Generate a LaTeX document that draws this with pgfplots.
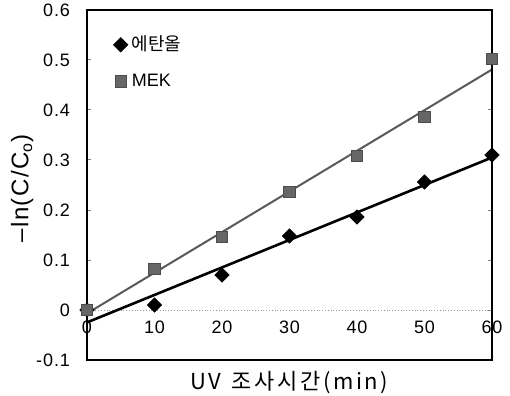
\documentclass[border=0pt]{standalone}
\usepackage{fontspec}
\setmainfont{Liberation Sans}
\newfontfamily\kr{Noto Sans CJK KR}
\newfontfamily\krs[LetterSpace=12]{Noto Sans CJK KR}
\newfontfamily\sps[LetterSpace=6]{Liberation Sans}
\newfontfamily\tks[LetterSpace=5]{Liberation Sans}
\usepackage{pgfplots}
\pgfplotsset{compat=1.18}
\begin{document}
\begin{tikzpicture}
\begin{axis}[
  scale only axis, width=202.5pt, height=175pt,
  xmin=0, xmax=60, ymin=-0.1, ymax=0.6,
  xtick={0,10,...,60}, ytick={-0.1,0,...,0.6},
  /pgf/number format/assume math mode=true,
  yticklabel style={/pgf/number format/fixed,/pgf/number format/precision=1, font=\tks\fontsize{9}{10}\selectfont, xshift=-5pt},
  xticklabel style={yshift=23pt, font=\tks\fontsize{9}{10}\selectfont},
  xtick style={draw=none},
  ytick style={line width=0.5pt},
  tick align=inside, major tick length=2pt,
  axis line style={line width=0.6pt},
  xlabel={\krs UV\hspace{5pt}조사시간(min)},
  xlabel style={at={(axis description cs:0.5,-0.063)}, anchor=center, font=\fontsize{11}{13}\selectfont},
  ylabel={\sps –ln(C/C\textsubscript{o})},
  ylabel style={at={(axis description cs:-0.16,0.49)}, anchor=center, font=\fontsize{12}{14}\selectfont},
  legend style={draw=none, fill=none, at={(axis description cs:0.05,0.95)}, anchor=north west, font=\fontsize{9}{10}\selectfont, row sep=6pt},
  legend cell align=left,
  clip=false,
]
\addplot[black!40, densely dotted, forget plot] coordinates {(0,0) (60,0)};
\addplot[black, line width=1.3pt, forget plot] coordinates {(0,-0.0248) (60,0.305)};
\addplot[black!65, line width=1pt, forget plot] coordinates {(0,-0.0068) (60,0.481)};
\addplot[only marks, mark=square*, mark size=2.5pt, mark options={fill=black, draw=black, rotate=45}] coordinates {
(0,0) (10,0.010) (20,0.070) (30,0.148) (40,0.186) (50,0.256) (60,0.310)};
\addlegendentry{\kr 에탄올}
\addplot[only marks, mark=square*, mark size=2.9pt, mark options={fill=black!60, draw=black!70}] coordinates {
(0,0) (10,0.082) (20,0.146) (30,0.236) (40,0.308) (50,0.386) (60,0.502)};
\addlegendentry{MEK}
\draw[line width=1.1pt] (rel axis cs:0,0) -- (rel axis cs:0,1);
\draw[line width=1.1pt] (rel axis cs:0,0) -- (rel axis cs:1,0);
\draw[line width=1.1pt] (rel axis cs:1,0) -- (rel axis cs:1,1);
\coordinate (ll) at (rel axis cs:0,0);
\coordinate (ur) at (rel axis cs:1,1);
\end{axis}
\pgfresetboundingbox
\path ([shift={(-43.5pt,-17.5pt)}]ll) rectangle ([shift={(9pt,5pt)}]ur);
\end{tikzpicture}
\end{document}
